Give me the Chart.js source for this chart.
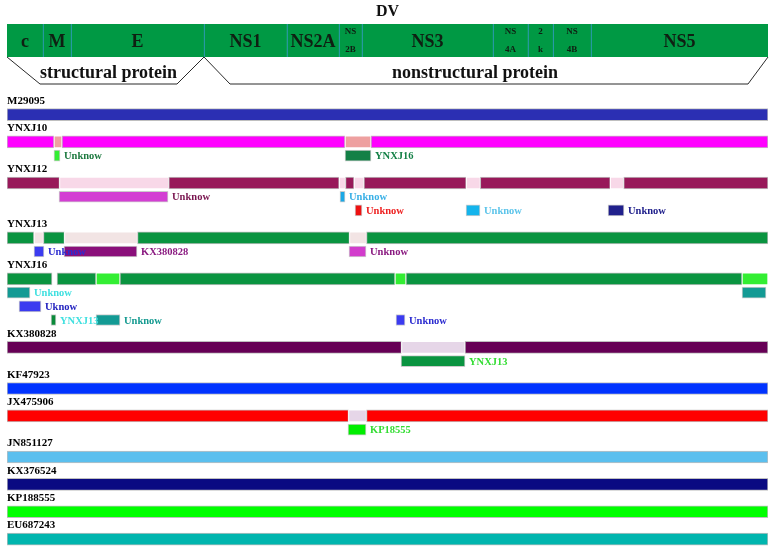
<!DOCTYPE html>
<html>
<head>
<meta charset="utf-8">
<script src="https://cdn.jsdelivr.net/npm/chart.js@4.4.0/dist/chart.umd.min.js"></script>
<style>
  html, body { margin: 0; padding: 0; background: #fff; }
  #wrap { position: relative; width: 773px; height: 548px; }
  #head { position: absolute; left: 0; top: 0; width: 773px; height: 94px; }
  #main { position: absolute; left: 0; top: 94px; width: 773px; height: 454px; }
</style>
</head>
<body>
<div id="wrap">
  <div id="head"><canvas id="geneMap"></canvas></div>
  <div id="main"><canvas id="strainMap"></canvas></div>
</div>
<script>
'use strict';

const genomeLength = 10723;

// gene map of the DV genome (end position of each gene, nt)
const genes = ['c', 'M', 'E', 'NS1', 'NS2A', 'NS\n2B', 'NS3', 'NS\n4A', '2\nk', 'NS\n4B', 'NS5'];
const geneEnds = [507, 902, 2776, 3945, 4678, 5002, 6848, 7341, 7694, 8229, 10723];

const proteinGroups = ['structural protein', 'nonstructural protein'];
const groupEnds = [2776, 10723];

const strains = ['M29095', 'YNXJ10', 'YNXJ12', 'YNXJ13', 'YNXJ16', 'KX380828',
  'KF47923', 'JX475906', 'JN851127', 'KX376524', 'KP188555', 'EU687243'];
const strainColors = ['#2b2fb3', '#ff00ff', '#98195a', '#0a9440', '#0a9440', '#660055',
  '#0033ff', '#ff0000', '#5bbfee', '#0a0a82', '#00ff00', '#00b5ae'];
const recombColors = ['#2b2fb3', '#eea0a0', '#f8d8e8', '#f2e4e4', '#33ee33', '#e6d6e8',
  '#0033ff', '#e6d6e8', '#5bbfee', '#0a0a82', '#00ff00', '#00b5ae'];
// how many rows of detected fragments sit under each genome
const fragmentRows = [0, 1, 2, 1, 3, 1, 0, 1, 0, 0, 0, 0];

// pieces of each genome bar: [start, end, recombinant region?]
const strainPieces = [
  [[0, 10723, 0]],
  [[0, 662, 0], [662, 775, 1], [775, 4763, 0], [4763, 5129, 1], [5129, 10723, 0]],
  [[0, 740, 0], [740, 2280, 1], [2280, 4680, 0], [4680, 4770, 1], [4770, 4890, 0], [4890, 5030, 1],
   [5030, 6470, 0], [6470, 6670, 1], [6670, 8500, 0], [8500, 8690, 1], [8690, 10723, 0]],
  [[0, 380, 0], [380, 514, 1], [514, 810, 0], [810, 1839, 1], [1839, 4826, 0], [4826, 5066, 1], [5066, 10723, 0]],
  [[0, 634, 0], [705, 1254, 0], [1254, 1592, 1], [1592, 5467, 0], [5467, 5622, 1], [5622, 10357, 0], [10357, 10723, 1]],
  [[0, 5559, 0], [5559, 6454, 1], [6454, 10723, 0]],
  [[0, 10723, 0]],
  [[0, 4812, 0], [4812, 5066, 1], [5066, 10723, 0]],
  [[0, 10723, 0]],
  [[0, 10723, 0]],
  [[0, 10723, 0]],
  [[0, 10723, 0]]
];

// detected fragments: [strain, row, start, end, colour, label, label colour]
const fragments = [
  [1, 0, 662, 747, '#33ee33', 'Unknow', '#1e7a40'],
  [1, 0, 4763, 5129, '#138046', 'YNXJ16', '#138046'],
  [2, 0, 733, 2269, '#d33fd3', 'Unknow', '#7a1650'],
  [2, 0, 4692, 4763, '#1aa8e6', 'Unknow', '#3ab0e6'],
  [2, 1, 4904, 5002, '#ee1111', 'Unknow', '#ee2222'],
  [2, 1, 6468, 6665, '#14b4ec', 'Unknow', '#5cc4ea'],
  [2, 1, 8469, 8694, '#20208c', 'Unknow', '#20208c'],
  [3, 0, 380, 521, '#3b3bf0', 'Unknow', '#2b2bd0'],
  [3, 0, 803, 1832, '#8a0f7a', 'KX380828', '#8a1a80'],
  [3, 0, 4819, 5059, '#d23ccc', 'Unknow', '#8a1a80'],
  [4, 0, 0, 324, '#139a94', 'Unknow', '#40e0e0'],
  [4, 0, 10357, 10695, '#139a94', '', ''],
  [4, 1, 169, 479, '#3b3bf0', 'Uknow', '#2424c0'],
  [4, 2, 620, 690, '#0a8a3a', 'YNXJ13', '#40e0e0'],
  [4, 2, 1254, 1592, '#139a94', 'Unknow', '#149a90'],
  [4, 2, 5481, 5608, '#3b3bf0', 'Unknow', '#2b2bd0'],
  [5, 0, 5552, 6454, '#0a9440', 'YNXJ13', '#33dd33'],
  [7, 0, 4805, 5059, '#00ee00', 'KP18555', '#33dd33']
];

const serif = '"Liberation Serif", "Times New Roman", serif';

// ---------- gene map ----------
let geneStarts = geneEnds.map((e, i) => i ? geneEnds[i - 1] : 0);

let geneLabels = {
  id: 'geneLabels',
  afterDatasetsDraw(chart) {
    let ctx = chart.ctx;
    let area = chart.chartArea;
    ctx.save();
    ctx.fillStyle = '#0f1f12';
    ctx.textAlign = 'center';
    ctx.textBaseline = 'middle';
    chart.getDatasetMeta(0).data.forEach((bar, i) => {
      let cx = (bar.x + bar.base) / 2;
      let lines = genes[i].split('\n');
      if (lines.length === 1) {
        ctx.font = 'bold 18px ' + serif;
        ctx.fillText(lines[0], cx, bar.y + 2);
      } else {
        ctx.font = 'bold 9px ' + serif;
        ctx.fillText(lines[0], cx, area.top + 8);
        ctx.fillText(lines[1], cx, area.top + 26);
      }
    });
    ctx.restore();
  },
  afterDraw(chart) {
    let ctx = chart.ctx;
    let area = chart.chartArea;
    let x = chart.scales.x;
    let slant = [[33, 27], [26, 20]];
    let shift = [0, -14];
    ctx.save();
    ctx.strokeStyle = '#2a2a2a';
    ctx.lineWidth = 1;
    ctx.fillStyle = '#111';
    ctx.font = 'bold 18px ' + serif;
    ctx.textAlign = 'center';
    ctx.textBaseline = 'middle';
    proteinGroups.forEach((name, i) => {
      let x0 = x.getPixelForValue(i ? groupEnds[i - 1] : 0);
      let x1 = x.getPixelForValue(groupEnds[i]);
      ctx.beginPath();
      ctx.moveTo(x0, area.bottom);
      ctx.lineTo(x0 + slant[i][0], 84);
      ctx.lineTo(x1 - slant[i][1], 84);
      ctx.lineTo(x1, area.bottom);
      ctx.stroke();
      ctx.fillText(name, (x0 + slant[i][0] + x1 - slant[i][1]) / 2 + shift[i], 73);
    });
    ctx.restore();
  }
};

new Chart(document.getElementById('geneMap'), {
  type: 'bar',
  data: {
    labels: ['DV'],
    datasets: [{
      data: genes.map((g, i) => ({ x: [geneStarts[i], geneEnds[i]], y: 'DV' })),
      backgroundColor: '#009944',
      borderColor: '#3a9ad0',
      borderWidth: ctx => ({ left: ctx.dataIndex > 0 ? 1 : 0, right: 0, top: 0, bottom: 0 }),
      borderSkipped: false,
      barThickness: 33,
      grouped: false
    }]
  },
  options: {
    indexAxis: 'y',
    responsive: true,
    maintainAspectRatio: false,
    animation: false,
    layout: { padding: { left: 7, right: 5, top: 0, bottom: 37 } },
    plugins: {
      legend: { display: false },
      tooltip: { enabled: false },
      title: {
        display: true,
        text: 'DV',
        color: '#111',
        font: { family: serif, size: 16, weight: 'bold' },
        padding: { top: 2, bottom: 2.8 }
      }
    },
    scales: {
      x: { type: 'linear', display: false, min: 0, max: genomeLength },
      y: { display: false }
    }
  },
  plugins: [geneLabels]
});

// ---------- strain bars ----------
let laneNames = [];
let barLane = [];
strains.forEach((s, i) => {
  laneNames.push(s);
  barLane.push(laneNames.length);
  laneNames.push(s + ' genome');
  for (let k = 0; k < fragmentRows[i]; k++) {
    laneNames.push(s + ' fragment ' + (k + 1));
  }
});

let pieceData = [];
let pieceFill = [];
let pieceBorder = [];
strainPieces.forEach((pieces, i) => {
  pieces.forEach(p => {
    pieceData.push({ x: [p[0], p[1]], y: laneNames[barLane[i]] });
    pieceFill.push(p[2] ? recombColors[i] : strainColors[i]);
    pieceBorder.push(p[2] ? '#ffffff' : 'rgba(0,0,0,0.25)');
  });
});

let stripLabels = {
  id: 'stripLabels',
  afterDatasetsDraw(chart) {
    let ctx = chart.ctx;
    let y = chart.scales.y;
    let left = chart.chartArea.left;
    ctx.save();
    ctx.textBaseline = 'middle';
    ctx.textAlign = 'left';
    ctx.font = 'bold 11px ' + serif;
    ctx.fillStyle = '#000';
    strains.forEach((s, i) => {
      ctx.fillText(s, left, y.getPixelForValue(barLane[i] - 1));
    });
    ctx.font = 'bold 10.5px ' + serif;
    chart.getDatasetMeta(1).data.forEach((bar, i) => {
      let f = fragments[i];
      if (!f[5]) return;
      ctx.fillStyle = f[6];
      ctx.fillText(f[5], bar.x + 4, bar.y + 1);
    });
    ctx.restore();
  }
};

new Chart(document.getElementById('strainMap'), {
  type: 'bar',
  data: {
    labels: laneNames,
    datasets: [{
      label: 'genome',
      data: pieceData,
      backgroundColor: pieceFill,
      borderColor: pieceBorder,
      borderWidth: 1,
      borderSkipped: false,
      barThickness: 12,
      grouped: false
    }, {
      label: 'fragments',
      data: fragments.map(f => ({ x: [f[2], f[3]], y: laneNames[barLane[f[0]] + 1 + f[1]] })),
      backgroundColor: fragments.map(f => f[4]),
      borderColor: 'rgba(0,0,0,0.2)',
      borderWidth: 1,
      borderSkipped: false,
      barThickness: 11,
      grouped: false
    }]
  },
  options: {
    indexAxis: 'y',
    responsive: true,
    maintainAspectRatio: false,
    animation: false,
    layout: { padding: { left: 7, right: 5, top: 0, bottom: 2 } },
    plugins: {
      legend: { display: false },
      tooltip: { enabled: false }
    },
    scales: {
      x: { type: 'linear', display: false, min: 0, max: genomeLength },
      y: { display: false }
    }
  },
  plugins: [stripLabels]
});
</script>
</body>
</html>
